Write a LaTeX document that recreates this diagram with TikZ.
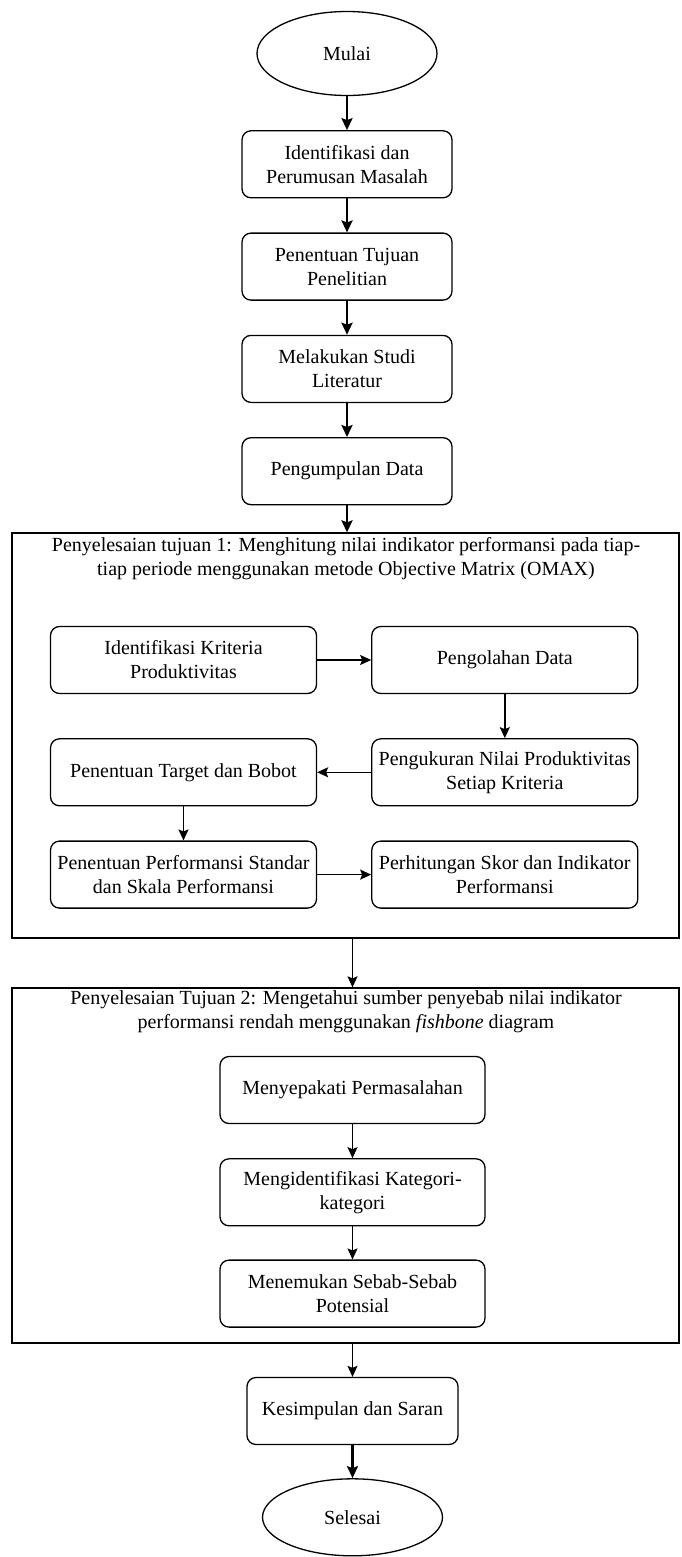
\documentclass[tikz,border=0pt]{standalone}
\usepackage{fontspec}
\setmainfont{Liberation Serif}
\usetikzlibrary{shapes.geometric}
\usetikzlibrary{arrows.meta}
\usetikzlibrary{positioning}

\tikzset{
    flowbox/.style = {draw, rounded corners=9pt, line width=1.3pt, align=center, minimum width=210pt, minimum height=67pt, inner sep=1pt},
    subbox/.style = {flowbox, minimum width=266pt},
    terminal/.style = {draw, ellipse, line width=1.3pt, minimum width=180pt, minimum height=84pt, inner sep=0pt},
    phasebox/.style = {draw, rectangle, line width=1.3pt, minimum width=667pt},
    mainarrow/.style = {-{Stealth[length=12pt,width=11pt,inset=2pt]}, line width=2.6pt},
    subarrow/.style = {-{Stealth[length=11pt,width=10pt,inset=2pt]}, line width=1.4pt},
}

\begin{document}
\begin{tikzpicture}[x=1pt, y=-1pt, node distance={34pt}, font=\fontsize{20}{24}\selectfont]
    \useasboundingbox (0,0) rectangle (681,1557);
    % alur utama
    \node[terminal] (mulai) at (347,53.5) {Mulai};
    \node[flowbox] (masalah) [below=of mulai] {Identifikasi dan\\Perumusan Masalah};
    \node[flowbox] (tujuan) [below=of masalah] {Penentuan Tujuan\\Penelitian};
    \node[flowbox] (literatur) [below=of tujuan] {Melakukan Studi\\Literatur};
    \node[flowbox] (kumpul) [below=of literatur] {Pengumpulan Data};
    % tujuan 1
    \node[phasebox, minimum height=405pt] (tahapA) at (345.5,735.5) {};
    \node[align=center] (judulA) at (346,558.5) {Penyelesaian tujuan 1: Menghitung nilai indikator performansi pada tiap-\\tiap periode menggunakan metode Objective Matrix (OMAX)};
    \node[subbox] (kriteria) at (183.5,660) {Identifikasi Kriteria\\Produktivitas};
    \node[subbox] (olah) [right=54pt of kriteria] {Pengolahan Data};
    \node[subbox] (ukur) [below=44pt of olah] {Pengukuran Nilai Produktivitas\\Setiap Kriteria};
    \node[subbox] (target) [left=54pt of ukur] {Penentuan Target dan Bobot};
    \node[subbox] (standar) [below=of target] {Penentuan Performansi Standar\\dan Skala Performansi};
    \node[subbox] (skor) [right=54pt of standar] {Perhitungan Skor dan Indikator\\Performansi};
    % tujuan 2
    \node[phasebox, minimum height=355pt] (tahapB) at (345.5,1165.5) {};
    \node[align=center] (judulB) at (346,1012) {Penyelesaian Tujuan 2: Mengetahui sumber penyebab nilai indikator\\performansi rendah menggunakan \textit{fishbone} diagram};
    \node[subbox, minimum width=265pt] (sepakati) at (352.5,1090) {Menyepakati Permasalahan};
    \node[subbox, minimum width=265pt] (kategori) [below=of sepakati] {Mengidentifikasi Kategori-\\kategori};
    \node[subbox, minimum width=265pt] (potensi) [below=33pt of kategori] {Menemukan Sebab-Sebab\\Potensial};
    % penutup
    \node[flowbox, minimum width=211pt] (simpul) at (352.5,1411) {Kesimpulan dan Saran};
    \node[terminal, minimum height=77pt] (selesai) [below=33pt of simpul] {Selesai};

    \draw[mainarrow] (mulai) -- (masalah);
    \draw[mainarrow] (masalah) -- (tujuan);
    \draw[mainarrow] (tujuan) -- (literatur);
    \draw[mainarrow] (literatur) -- (kumpul);
    \draw[mainarrow] (kumpul) -- (kumpul |- tahapA.north);
    \draw[subarrow] (kriteria) -- (olah);
    \draw[subarrow] (olah) -- (ukur);
    \draw[subarrow] (ukur) -- (target);
    \draw[subarrow] (target) -- (standar);
    \draw[subarrow] (standar) -- (skor);
    \draw[subarrow] (sepakati |- tahapA.south) -- (sepakati |- tahapB.north);
    \draw[subarrow] (sepakati) -- (kategori);
    \draw[subarrow] (kategori) -- (potensi);
    \draw[subarrow] (simpul |- tahapB.south) -- (simpul);
    \draw[mainarrow] (simpul) -- (selesai);
\end{tikzpicture}
\end{document}
